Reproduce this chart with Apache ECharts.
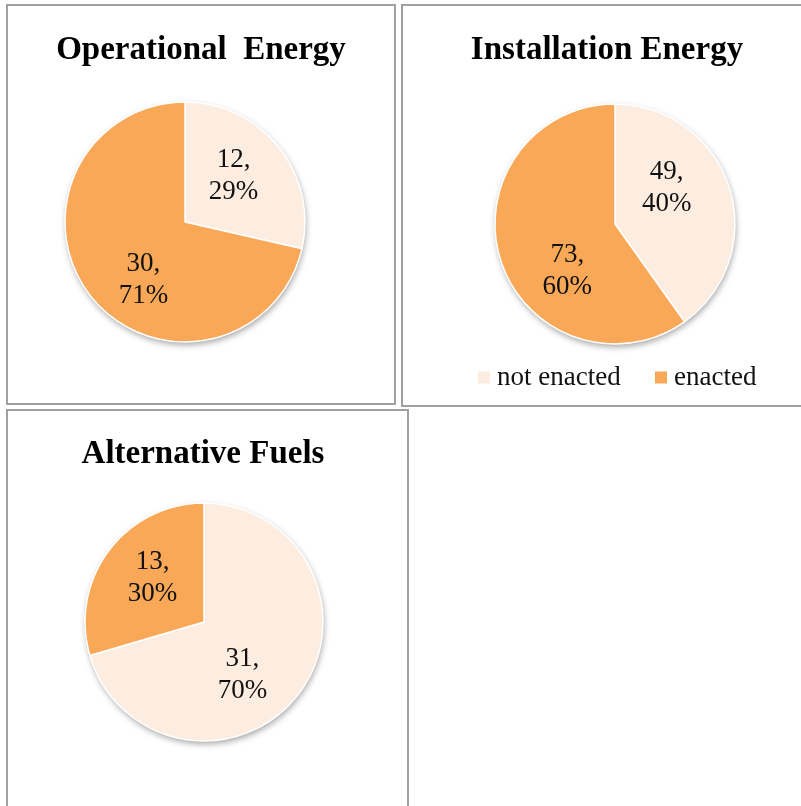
<!DOCTYPE html>
<html>
<head>
<meta charset="utf-8">
<script src="https://cdn.jsdelivr.net/npm/echarts@6/dist/echarts.min.js"></script>
<style>
html,body{margin:0;padding:0;background:#fff;}
#chart{width:801px;height:806px;}
</style>
</head>
<body>
<div id="chart"></div>
<script>
const categories = ['not enacted', 'enacted'];
const operationalValues = [12, 30];
const installationValues = [49, 73];
const fuelsValues = [31, 13];
const chartTitles = ['Operational  Energy', 'Installation Energy', 'Alternative Fuels'];

const sliceColors = ['#FDEDE1', '#F9A857'];
const serif = '"Liberation Serif", "DejaVu Serif", serif';

// layout / style settings per pie (label nudges mimic the original label placement)
const pies = [
  { values: operationalValues, center: [185, 222], r: 120, titleX: 201, titleY: 34, nudges: [[-7, -2], [14, 14]] },
  { values: installationValues, center: [615, 224], r: 120, titleX: 607, titleY: 34, nudges: [[-16, -15], [20, 25]] },
  { values: fuelsValues, center: [204, 622], r: 119, titleX: 203, titleY: 438, nudges: [[-18, 11], [5, -2]] }
];

function toData(values) {
  return categories.map((name, i) => ({ name: name, value: values[i], itemStyle: { color: sliceColors[i] } }));
}

const series = [];
pies.forEach((p, k) => {
  // shadow base
  series.push({
    type: 'pie', silent: true, center: p.center, radius: [0, p.r],
    startAngle: 90, clockwise: true, animation: false,
    data: toData(p.values).map(d => ({ name: d.name, value: d.value, itemStyle: { color: '#ffffff' } })),
    itemStyle: { shadowBlur: 6, shadowColor: 'rgba(0,0,0,0.35)', shadowOffsetX: 1, shadowOffsetY: 3 },
    label: { show: false }, labelLine: { show: false }
  });
  // coloured slices
  series.push({
    type: 'pie', silent: true, center: p.center, radius: [0, p.r],
    startAngle: 90, clockwise: true, animation: false,
    data: toData(p.values),
    itemStyle: { borderColor: '#ffffff', borderWidth: 1.5 },
    label: { show: false }, labelLine: { show: false }
  });
  // labels
  series.push({
    type: 'pie', silent: true, center: p.center, radius: [16, p.r],
    startAngle: 90, clockwise: true, animation: false,
    percentPrecision: 0,
    data: toData(p.values).map((d, i) => ({
      name: d.name, value: d.value, itemStyle: { color: 'rgba(0,0,0,0)' },
      label: { offset: p.nudges[i] }
    })),
    label: {
      show: true, position: 'inside', formatter: '{c},\n{d}%',
      fontFamily: serif, fontSize: 27, lineHeight: 32, color: '#111111'
    },
    labelLine: { show: false }
  });
});

const option = {
  backgroundColor: '#ffffff',
  animation: false,
  title: pies.map((p, k) => ({
    text: chartTitles[k], left: p.titleX, top: p.titleY, textAlign: 'center', padding: 0,
    textStyle: { fontFamily: serif, fontWeight: 'bold', fontSize: 33, color: '#000000' }
  })),
  legend: [
    {
      data: [{ name: categories[0], itemStyle: { color: sliceColors[0] } }],
      left: 478, top: 364, padding: 0, icon: 'rect', itemWidth: 12, itemHeight: 12, itemGap: 0,
      selectedMode: false,
      textStyle: { fontFamily: serif, fontSize: 27, color: '#111111', padding: [0, 0, 0, 2] }
    },
    {
      data: [{ name: categories[1], itemStyle: { color: sliceColors[1] } }],
      left: 655, top: 364, padding: 0, icon: 'rect', itemWidth: 12, itemHeight: 12, itemGap: 0,
      selectedMode: false,
      textStyle: { fontFamily: serif, fontSize: 27, color: '#111111', padding: [0, 0, 0, 2] }
    }
  ],
  graphic: [
    { type: 'rect', shape: { x: 7, y: 5, width: 388, height: 399 }, style: { fill: 'none', stroke: '#A0A0A0', lineWidth: 2 }, z: -1 },
    { type: 'rect', shape: { x: 402, y: 5, width: 420, height: 401 }, style: { fill: 'none', stroke: '#A0A0A0', lineWidth: 2 }, z: -1 },
    { type: 'rect', shape: { x: 7, y: 410, width: 401, height: 430 }, style: { fill: 'none', stroke: '#A0A0A0', lineWidth: 2 }, z: -1 }
  ],
  series: series
};

const chart = echarts.init(document.getElementById('chart'), null, { renderer: 'canvas' });
chart.setOption(option);
</script>
</body>
</html>
